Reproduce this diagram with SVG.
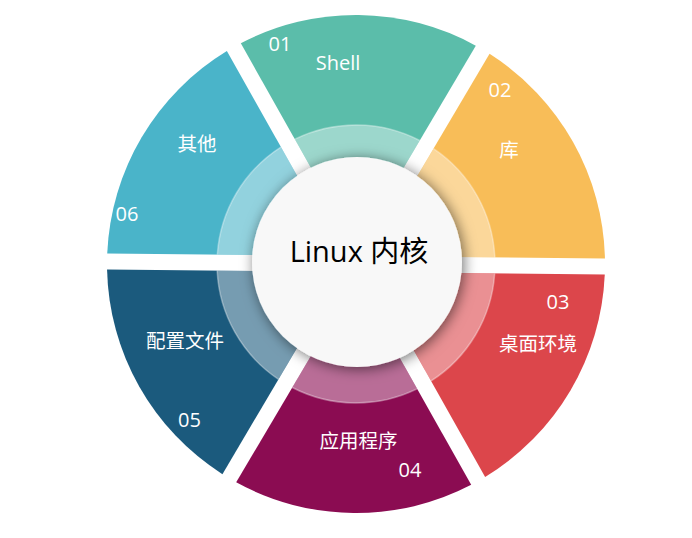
<svg xmlns="http://www.w3.org/2000/svg" width="692" height="538" viewBox="0 0 692 538">
<defs>
<filter id="sh" x="-30%" y="-30%" width="160%" height="160%">
<feDropShadow dx="2" dy="2" stdDeviation="7" flood-color="#000" flood-opacity="0.55"/>
</filter>
</defs>
<style>
.ring{fill:#fff;fill-opacity:0.4}
.edge{fill:none;stroke:#fff;stroke-opacity:0.35;stroke-width:1.5}
.lbl{font-family:"Open Sans","Noto Sans CJK SC",sans-serif;fill:#fff;text-anchor:middle;font-size:20px}
.cjk{font-size:19.5px}
</style>
<rect width="692" height="538" fill="#fff"/>
<g id="shell">
<path d="M356.17 248 L240.80 43.25 A249 249 0 0 1 475.80 45.71 Z" fill="#5bbdaa"/>
<path class="ring" d="M356.17 248 L294.85 139.18 A139 139 0 0 1 419.75 140.48 Z"/>
<path class="edge" d="M294.85 139.18 A139 139 0 0 1 419.75 140.48"/>
<text class="lbl" x="280" y="51">01</text>
<text class="lbl" x="338" y="70">Shell</text>
</g>
<g id="lib">
<path d="M369.94 256.15 L489.57 53.86 A249 249 0 0 1 604.94 258.61 Z" fill="#f8bd58"/>
<path class="ring" d="M369.94 256.15 L433.52 148.63 A139 139 0 0 1 494.85 257.45 Z"/>
<path class="edge" d="M433.52 148.63 A139 139 0 0 1 494.85 257.45"/>
<text class="lbl" x="500" y="97">02</text>
<text class="lbl cjk" x="509" y="157">库</text>
</g>
<g id="desktop">
<path d="M369.77 272.14 L604.77 274.61 A249 249 0 0 1 485.14 476.90 Z" fill="#dc464b"/>
<path class="ring" d="M369.77 272.14 L494.68 273.45 A139 139 0 0 1 431.09 380.97 Z"/>
<path class="edge" d="M494.68 273.45 A139 139 0 0 1 431.09 380.97"/>
<text class="lbl" x="558" y="309">03</text>
<text class="lbl cjk" x="538" y="351">桌面环境</text>
</g>
<g id="apps">
<path d="M355.83 280 L471.20 484.75 A249 249 0 0 1 236.20 482.29 Z" fill="#8b0c52"/>
<path class="ring" d="M355.83 280 L417.15 388.82 A139 139 0 0 1 292.25 387.52 Z"/>
<path class="edge" d="M417.15 388.82 A139 139 0 0 1 292.25 387.52"/>
<text class="lbl cjk" x="358.5" y="448">应用程序</text>
<text class="lbl" x="410" y="477">04</text>
</g>
<g id="config">
<path d="M342.06 271.85 L222.43 474.14 A249 249 0 0 1 107.06 269.39 Z" fill="#1b5a7d"/>
<path class="ring" d="M342.06 271.85 L278.48 379.37 A139 139 0 0 1 217.15 270.55 Z"/>
<path class="edge" d="M278.48 379.37 A139 139 0 0 1 217.15 270.55"/>
<text class="lbl cjk" x="185" y="348">配置文件</text>
<text class="lbl" x="189.5" y="427">05</text>
</g>
<g id="other">
<path d="M342.23 255.86 L107.23 253.39 A249 249 0 0 1 226.86 51.10 Z" fill="#4ab4c9"/>
<path class="ring" d="M342.23 255.86 L217.32 254.55 A139 139 0 0 1 280.91 147.03 Z"/>
<path class="edge" d="M217.32 254.55 A139 139 0 0 1 280.91 147.03"/>
<text class="lbl cjk" x="197" y="151">其他</text>
<text class="lbl" x="127" y="221">06</text>
</g>
<g id="kernel">
<circle cx="357" cy="262" r="105" fill="#f8f8f8" filter="url(#sh)"/>
<text x="359" y="262" font-family="'Open Sans','Noto Sans CJK SC',sans-serif" font-size="29" text-anchor="middle" fill="#000">Linux 内核</text>
</g>
<g id="connectors"/>
</svg>
